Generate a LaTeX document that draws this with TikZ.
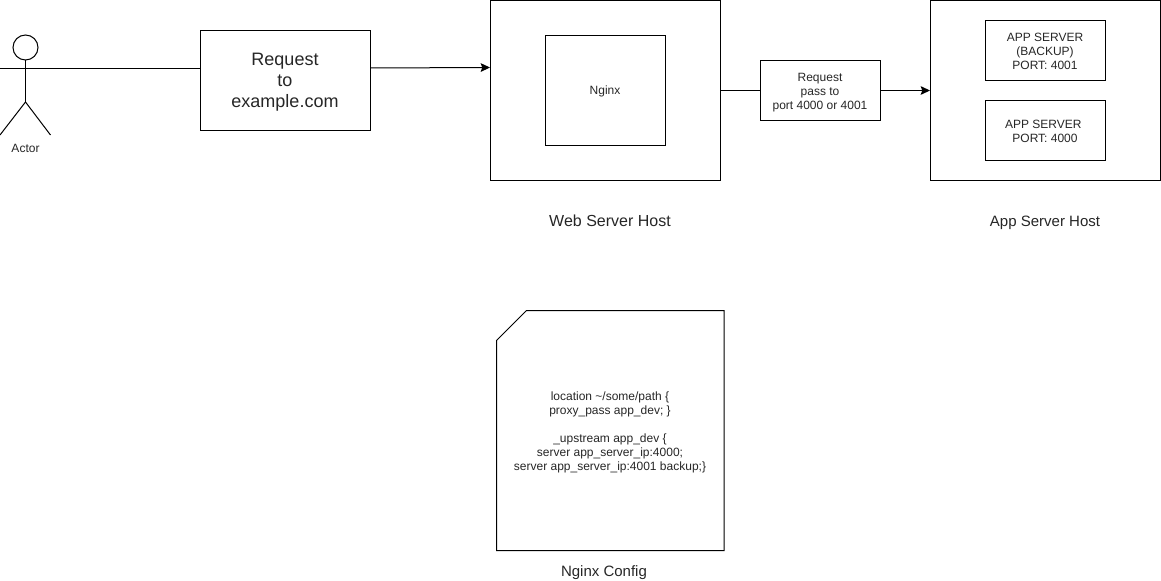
\documentclass[tikz,border=0pt]{standalone}
\usepackage{fontspec}
\setmainfont{Liberation Sans}
\usetikzlibrary{arrows.meta}
\newcommand{\pxfont}[2]{\fontsize{#1}{#2}\selectfont}
\tikzset{
  every node/.style={inner sep=0pt,outer sep=0pt,align=center,text=black!85},
  boxshape/.style={draw=black,minimum width=#1},
  small/.style={font=\pxfont{9}{10.5}},
  big/.style={font=\pxfont{13.5}{15.75}},
  cap15/.style={font=\pxfont{11.25}{13}},
  cap16/.style={font=\pxfont{12}{14}},
  flow/.style={-{Stealth[length=7pt,width=6.5pt,inset=1.2pt]}},
}
\begin{document}
\begin{tikzpicture}[x=0.75pt,y=-0.75pt,line width=0.75pt,line join=miter]
\useasboundingbox (0,0) rectangle (1161,581);
% actor
\node[draw=black,circle,minimum size=18.75pt] (head) at (25.5,47.5) {};
\coordinate (hip) at (25.5,102);
\coordinate (armL) at (0,69);
\coordinate (armR) at (50.5,69);
\coordinate (legL) at (0,135);
\coordinate (legR) at (50.5,135);
\draw (head.south) -- (hip);
\draw (armL) -- (armR);
\draw (legL) -- (hip) -- (legR);
\node[small] (actorlabel) at (25.5,148.5) {Actor};
% boxes
\node[boxshape=127.5pt,minimum height=75pt,label={[big,yshift=-1.1pt]center:{Request\\to\hspace*{3.75pt}\\example.com}}] (req) at (285,80.5) {};
\node[boxshape=172.5pt,minimum height=135pt] (web) at (605,90.5) {};
\node[boxshape=90pt,minimum height=82.5pt,label={[small,yshift=-0.4pt]center:{Nginx}}] (nginx) at (605,90.5) {};
\node[boxshape=90pt,minimum height=45pt,label={[small,yshift=-1.5pt]center:{Request\\pass to\\port 4000 or 4001}}] (pass) at (820,90.5) {};
\node[boxshape=172.5pt,minimum height=135pt] (app) at (1045,90.5) {};
\node[boxshape=90pt,minimum height=45pt,label={[small,yshift=-0.4pt]center:{APP SERVER\\(BACKUP)\hspace*{2.5pt}\\PORT: 4001}}] (backup) at (1045,50.5) {};
\node[boxshape=90pt,minimum height=45pt,label={[small,yshift=-0.4pt]center:{APP SERVER\hspace*{2.5pt}\\PORT: 4000}}] (main) at (1045,130.5) {};
% connectors
\draw (armR) -- (armR -| req.west);
\draw[flow] (req.east |- 0,68) -- (web.west |- 0,67.5);
\draw (web.east |- pass.west) -- (pass.west);
\draw[flow] (pass.east) -- (app.west |- pass.east);
% captions
\node[cap16] (webcap) at (610,220.5) {Web Server Host};
\node[cap15] (appcap) at (1045,222.5) {App Server Host};
% config note
\coordinate (nA) at (526.5,310.5);
\coordinate (nB) at (724,310.5);
\coordinate (nC) at (724,550.5);
\coordinate (nD) at (496.5,550.5);
\coordinate (nE) at (496.5,340.5);
\draw (nA) -- (nB) -- (nC) -- (nD) -- (nE) -- cycle;
\node[small] (config) at (610,432.5) {location \textasciitilde/some/path \{\\proxy\_pass app\_dev; \}\\[10.5pt]\_upstream app\_dev \{\\server app\_server\_ip:4000;\\server app\_server\_ip:4001 backup;\}};
\node[cap15] (configcap) at (604,572.5) {Nginx Config};
\end{tikzpicture}
\end{document}
